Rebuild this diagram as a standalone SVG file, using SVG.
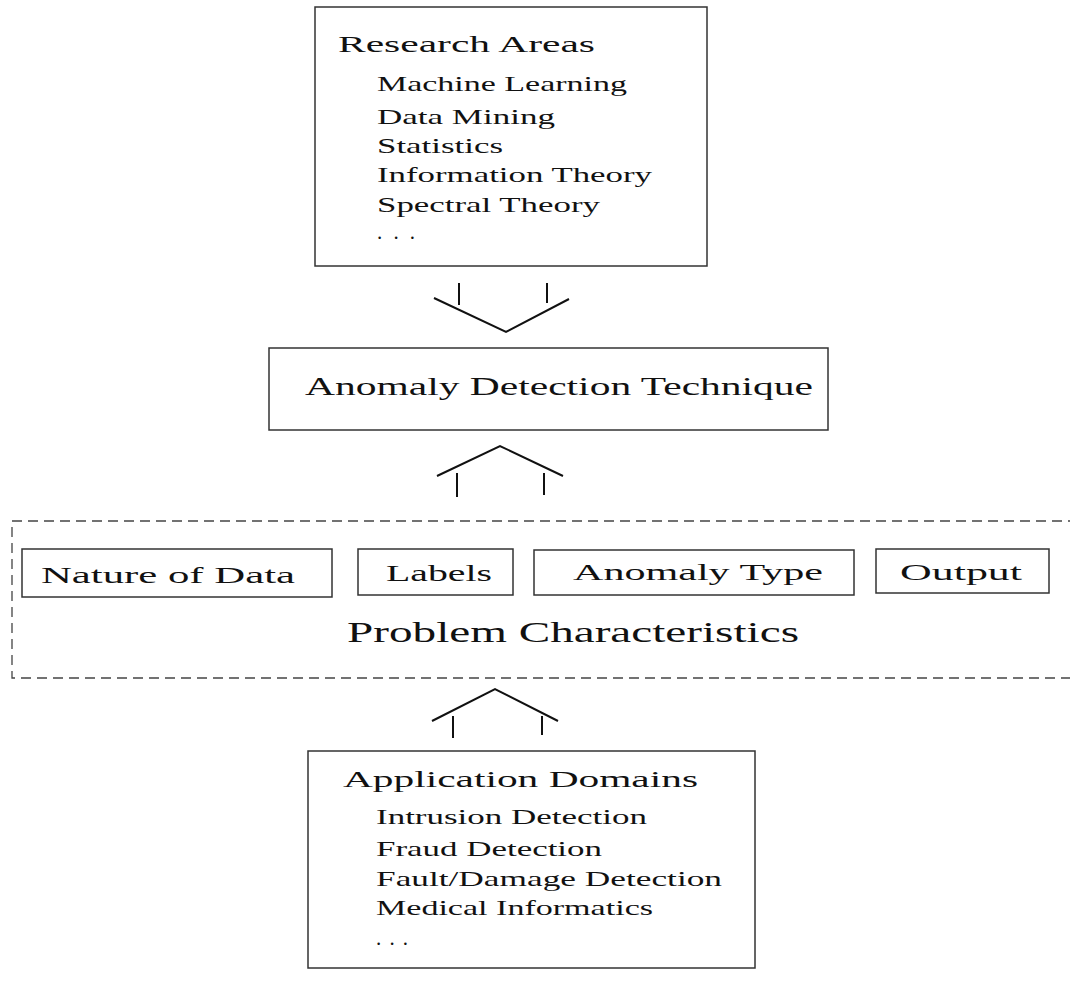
<svg xmlns="http://www.w3.org/2000/svg" width="1070" height="985" viewBox="0 0 1070 985">
<style>
.box{fill:none;stroke:#333;stroke-width:1.5}
.dash{fill:none;stroke:#444;stroke-width:1.3;stroke-dasharray:10,6}
.ln{fill:none;stroke:#111;stroke-width:2;stroke-linecap:butt;stroke-linejoin:miter}
text{font-family:"Liberation Serif","DejaVu Serif",serif;fill:#111}
.t{font-size:24px}
.i{font-size:21px}
.m{font-size:25px}
.s{font-size:23px}
.p{font-size:30px}
</style>
<rect width="1070" height="985" fill="#fff"/>
<g id="research-areas">
<rect class="box" x="315" y="7" width="392" height="259"/>
<text class="t" x="338" y="52" textLength="257" lengthAdjust="spacingAndGlyphs">Research Areas</text>
<text class="i" x="377" y="91" textLength="250" lengthAdjust="spacingAndGlyphs">Machine Learning</text>
<text class="i" x="377" y="124" textLength="178" lengthAdjust="spacingAndGlyphs">Data Mining</text>
<text class="i" x="377" y="153" textLength="126" lengthAdjust="spacingAndGlyphs">Statistics</text>
<text class="i" x="377" y="182" textLength="275" lengthAdjust="spacingAndGlyphs">Information Theory</text>
<text class="i" x="377" y="212" textLength="223" lengthAdjust="spacingAndGlyphs">Spectral Theory</text>
<text class="i" x="377" y="239" textLength="38" lengthAdjust="spacing">...</text>
</g>
<g id="anomaly-detection-technique">
<rect class="box" x="269" y="348" width="559" height="82"/>
<text class="m" x="305" y="395" textLength="508" lengthAdjust="spacingAndGlyphs">Anomaly Detection Technique</text>
</g>
<g id="problem-characteristics">
<rect class="dash" x="12" y="521" width="1075" height="157"/>
<text class="p" x="347" y="642" textLength="452" lengthAdjust="spacingAndGlyphs">Problem Characteristics</text>
</g>
<g id="nature-of-data">
<rect class="box" x="22" y="549" width="310" height="48"/>
<text class="s" x="41" y="583" textLength="254" lengthAdjust="spacingAndGlyphs">Nature of Data</text>
</g>
<g id="labels">
<rect class="box" x="358" y="549" width="155" height="46"/>
<text class="s" x="386" y="581" textLength="106" lengthAdjust="spacingAndGlyphs">Labels</text>
</g>
<g id="anomaly-type">
<rect class="box" x="534" y="550" width="320" height="45"/>
<text class="s" x="573" y="580" textLength="250" lengthAdjust="spacingAndGlyphs">Anomaly Type</text>
</g>
<g id="output">
<rect class="box" x="876" y="549" width="173" height="44"/>
<text class="s" x="900" y="580" textLength="122" lengthAdjust="spacingAndGlyphs">Output</text>
</g>
<g id="application-domains">
<rect class="box" x="308" y="751" width="447" height="217"/>
<text class="t" x="343" y="787" textLength="355" lengthAdjust="spacingAndGlyphs">Application Domains</text>
<text class="i" x="376" y="824" textLength="271" lengthAdjust="spacingAndGlyphs">Intrusion Detection</text>
<text class="i" x="376" y="856" textLength="226" lengthAdjust="spacingAndGlyphs">Fraud Detection</text>
<text class="i" x="376" y="886" textLength="346" lengthAdjust="spacingAndGlyphs">Fault/Damage Detection</text>
<text class="i" x="376" y="915" textLength="277" lengthAdjust="spacingAndGlyphs">Medical Informatics</text>
<text class="i" x="376" y="945" textLength="32" lengthAdjust="spacing">...</text>
</g>
<g id="connectors">
<line class="ln" x1="459" y1="283" x2="459" y2="305"/>
<line class="ln" x1="547" y1="283" x2="547" y2="303"/>
<polyline class="ln" points="434,298 506,332 569,299"/>
<polyline class="ln" points="437,476 500,446 563,476"/>
<line class="ln" x1="457" y1="473" x2="457" y2="497"/>
<line class="ln" x1="544" y1="473" x2="544" y2="495"/>
<polyline class="ln" points="432,721 495,689 558,721"/>
<line class="ln" x1="453" y1="716" x2="453" y2="738"/>
<line class="ln" x1="542" y1="716" x2="542" y2="735"/>
</g>
</svg>
